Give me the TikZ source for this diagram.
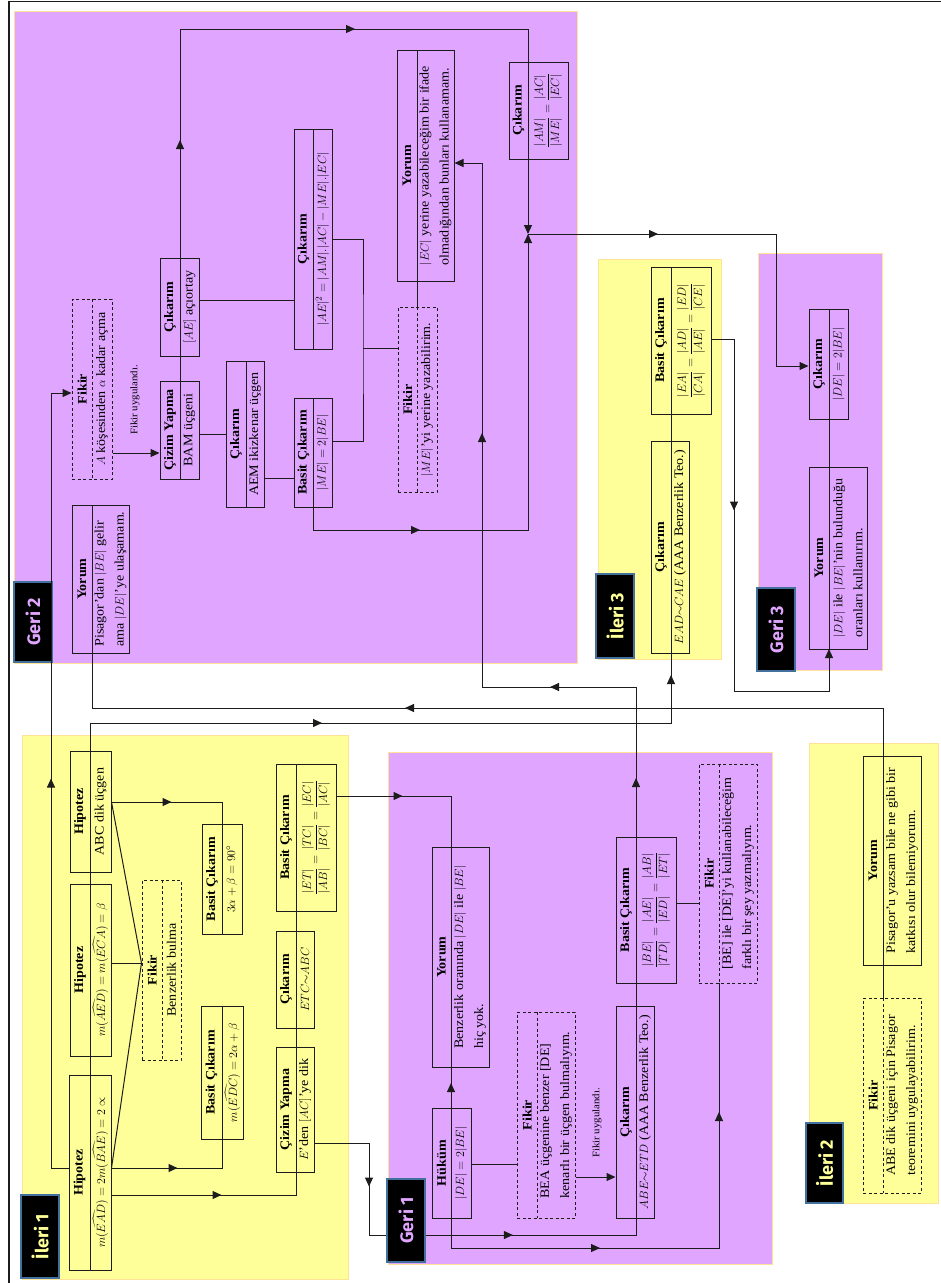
\documentclass[tikz,border=0pt]{standalone}
\usepackage{amsmath}
\usepackage{fontspec}
\setmainfont{Liberation Serif}[FakeStretch=1.08]
\newfontfamily\labfont{Fira Sans}
\usetikzlibrary{arrows.meta,fit,decorations.markings,calc}
\definecolor{purp}{RGB}{224,166,255}
\definecolor{yel}{RGB}{255,255,153}
\definecolor{regline}{RGB}{255,226,150}
\definecolor{labline}{RGB}{65,113,156}
\definecolor{ink}{RGB}{28,28,28}
\tikzset{
  region/.style={inner sep=0pt, draw=regline, line width=0.8pt},
  boxframe/.style={draw=ink, line width=1pt, inner sep=0pt},
  dashedbox/.style={dash pattern=on 3pt off 2.5pt},
  hdr/.style={rotate=90, inner sep=0pt, font=\bfseries\fontsize{13}{14}\selectfont},
  cnt/.style={rotate=90, inner sep=0pt, align=left, font=\fontsize{13}{20}\selectfont},
  conn/.style={draw=ink, line width=1pt},
  endarr/.style={-{Triangle[length=9pt,width=8pt]}},
  marr/.style={postaction={decorate,decoration={markings,mark=at position #1 with {\arrow{Triangle[length=9pt,width=8pt]}}}}},
  lab/.style={fill=black, draw=labline, line width=1.8pt, inner sep=0pt},
  labtext/.style={rotate=90, inner sep=0pt, font=\labfont\bfseries\fontsize{18}{20}\selectfont},
  smalltext/.style={rotate=90, inner sep=0pt, font=\fontsize{10}{12}\selectfont},
}
% name, x1, x2, y1, y2, xdiv, header, content, extra style
\newcommand\twobox[9]{%
  \node[boxframe,#9,fit={(#2,#4)(#3,#5)}] (#1) {};
  \draw[boxframe,#9] (#6,#4) -- (#6,#5);
  \coordinate (#1-dn) at (#6,#4);
  \coordinate (#1-ds) at (#6,#5);
  \node[hdr] (#1-h) at ({(#2+#6)/2},{(#4+#5)/2}) {#7};
  \node[cnt] (#1-c) at ({(#6+#3)/2},{(#4+#5)/2}) {#8};
}
\begin{document}
\begin{tikzpicture}[x=1pt,y=-1pt]
\useasboundingbox (0,0) rectangle (941,1283);
% regions
\node[region,fill=purp,fit={(14,11)(577,663)}] (rg2) {};
\node[region,fill=yel,fit={(22,735)(348,1279)}] (ri1) {};
\node[region,fill=purp,fit={(388,752)(772,1264)}] (rg1) {};
\node[region,fill=yel,fit={(598,259)(721,659)}] (ri3) {};
\node[region,fill=purp,fit={(758,253)(882,670)}] (rg3) {};
\node[region,fill=yel,fit={(809,743)(938,1203)}] (ri2) {};
\draw[line width=1.5pt,ink] (9,1283) -- (9,1.5) -- (941,1.5);

% Geri 2
\twobox{g2yor}{72}{129}{505}{653}{92}{Yorum}{Pisagor’dan $|BE|$ gelir\\ama $|DE|$’ye ulaşamam.}{}
\twobox{g2fik}{72}{112}{299}{479}{92}{Fikir}{$A$ köşesinden $\alpha$ kadar açma}{dashedbox}
\twobox{g2ciz}{160}{199}{381}{479}{180}{Çizim Yapma}{BAM üçgeni}{}
\twobox{g2cika}{160}{199}{258}{356}{180}{Çıkarım}{$[AE]$ açıortay}{}
\twobox{g2cikb}{226}{264}{361}{507}{246}{Çıkarım}{AEM ikizkenar üçgen}{}
\twobox{g2bas}{294}{332}{398}{507}{313}{Basit Çıkarım}{$|ME|=2|BE|$}{}
\twobox{g2cikc}{294}{332}{129}{349}{313}{Çıkarım}{$|AE|^2=|AM|.|AC|-|ME|.|EC|$}{}
\twobox{g2fikb}{398}{437}{307}{492}{417}{Fikir}{$|ME|$’yi yerine yazabilirim.}{dashedbox}
\twobox{g2yorb}{397}{454}{50}{281}{417}{Yorum}{$|EC|$ yerine yazabileceğim bir ifade\\olmadığından bunları kullanamam.}{}
\twobox{g2cikd}{509}{568}{62}{159}{528}{Çıkarım}{$\dfrac{|AM|}{|ME|}=\dfrac{|AC|}{|EC|}$}{}
% Ileri 3
\twobox{i3bas}{651}{711}{267}{414}{671}{Basit Çıkarım}{$\dfrac{|EA|}{|CA|}=\dfrac{|AD|}{|AE|}=\dfrac{|ED|}{|CE|}$}{}
\twobox{i3cik}{651}{689}{441}{653}{671}{Çıkarım}{$EAD{\sim}CAE$ (AAA Benzerlik Teo.)}{}
% Geri 3
\twobox{g3cik}{809}{848}{309}{419}{829}{Çıkarım}{$|DE|=2|BE|$}{}
\twobox{g3yor}{809}{867}{467}{649}{829}{Yorum}{$|DE|$ ile $|BE|$’nin bulunduğu\\oranları kullanırım.}{}
% Ileri 1
\twobox{i1hipc}{70}{111}{751}{872}{90}{Hipotez}{ABC dik üçgen}{}
\twobox{i1hipb}{70}{111}{884}{1056}{90}{Hipotez}{$m(\widehat{AED})=m(\widehat{ECA})=\beta$}{}
\twobox{i1hipa}{69}{111}{1075}{1270}{90}{Hipotez}{$m(\widehat{EAD})=2m(\widehat{BAE})=2\propto$}{}
\twobox{i1fik}{142}{181}{880}{1060}{162}{Fikir}{Benzerlik bulma}{dashedbox}
\twobox{i1basa}{202}{242}{824}{934}{222}{Basit Çıkarım}{$3\alpha+\beta=90^{\circ}$}{}
\twobox{i1basb}{201}{243}{1006}{1139}{222}{Basit Çıkarım}{$m(\widehat{EDC})=2\alpha+\beta$}{}
\twobox{i1basc}{276}{336}{764}{911}{296}{Basit Çıkarım}{$\dfrac{|ET|}{|AB|}=\dfrac{|TC|}{|BC|}=\dfrac{|EC|}{|AC|}$}{}
\twobox{i1cik}{276}{314}{931}{1028}{296}{Çıkarım}{$ETC{\sim}ABC$}{}
\twobox{i1ciz}{276}{314}{1047}{1172}{296}{Çizim Yapma}{$E$’den $[AC]$’ye dik}{}
% Geri 1
\twobox{g1hk}{432}{471}{1108}{1218}{451}{Hüküm}{$|DE|=2|BE|$}{}
\twobox{g1yor}{432}{489}{847}{1067}{451}{Yorum}{Benzerlik oranında $|DE|$ ile $|BE|$\\hiç yok.}{}
\twobox{g1fik}{517}{575}{1012}{1218}{537}{Fikir}{BEA üçgenine benzer [DE]\\kenarlı bir üçgen bulmalıyım.}{dashedbox}
\twobox{g1cik}{616}{654}{1006}{1218}{636}{Çıkarım}{$ABE{\sim}ETD$ (AAA Benzerlik Teo.)}{}
\twobox{g1bas}{616}{676}{837}{983}{636}{Basit Çıkarım}{$\dfrac{|BE|}{|TD|}=\dfrac{|AE|}{|ED|}=\dfrac{|AB|}{|ET|}$}{}
\twobox{g1fikb}{699}{757}{764}{983}{719}{Fikir}{[BE] ile [DE]’yi kullanabileceğim\\farklı bir şey yazmalıyım.}{dashedbox}
% Ileri 2
\twobox{i2yor}{863}{921}{756}{965}{883}{Yorum}{Pisagor’u yazsam bile ne gibi bir\\katkısı olur bilemiyorum.}{}
\twobox{i2fik}{863}{921}{998}{1193}{883}{Fikir}{ABE dik üçgeni için Pisagor\\teoremini uygulayabilirim.}{dashedbox}

\node[smalltext] (fu1) at (135,400) {Fikir uygulandı.};
\node[smalltext] (fu2) at (597,1123) {Fikir uygulandı.};

% labels
\node[lab,fit={(14,582)(52,662)}] (lg2) {};
\node[lab,fit={(21,1195)(59,1278)}] (li1) {};
\node[lab,fit={(387,1179)(425,1262)}] (lg1) {};
\node[lab,fit={(596,574)(634,658)}] (li3) {};
\node[lab,fit={(757,588)(795,671)}] (lg3) {};
\node[lab,fit={(806,1123)(843,1203)}] (li2) {};
\node[labtext,text=purp] (lg2t) at (lg2.center) {Geri 2};
\node[labtext,text=yel] (li1t) at (li1.center) {İleri 1};
\node[labtext,text=purp] (lg1t) at (lg1.center) {Geri 1};
\node[labtext,text=yel] (li3t) at (li3.center) {İleri 3};
\node[labtext,text=purp] (lg3t) at (lg3.center) {Geri 3};
\node[labtext,text=yel] (li2t) at (li2.center) {İleri 2};

% connectors
\draw[conn,endarr,marr=407pt] (i1hipa.west |- 0,1168) -- (51,1168) -- (51,393) -- (g2fik.west |- 0,393);
\draw[conn,marr=66pt] (i1hipa.east |- 0,1168) -| (i1basb-ds);
\draw[conn,marr=110pt] (i1hipa.east |- 0,1195) -| (i1ciz-ds);
\draw[conn] (i1hipa.east |- 0,1168) -- (i1fik.west |- 0,963);
\draw[conn] (i1hipb.east |- 0,963) -- (i1fik.west |- 0,963);
\draw[conn] (i1hipc.east |- 0,802) -- (i1fik.west |- 0,963);
\draw[conn,marr=60pt] (i1hipc.east |- 0,802) -| (i1basa-dn);
\draw[conn] (i1hipa-dn) -- (i1hipb-ds);
\draw[conn] (i1hipb-dn) -- (i1hipc-ds);
\draw[conn,marr=260pt,marr=657pt] (i1hipc-dn) -- (90,723) -| (i3cik-ds);
\draw[conn] (i1ciz-dn) -- (i1cik-ds);
\draw[conn] (i1cik-dn) -- (i1basc-ds);
\draw[conn,marr=66pt] (i1basc.east |- 0,796) -| (g1yor-dn);
\draw[conn,marr=98pt] (i1ciz.east |- 0,1143) -- (369,1143) |- (lg1.west |- 0,1235);
\draw[conn,marr=87pt] (lg1.east |- 0,1235) -| (g1cik-ds);
\draw[conn] (g1cik-dn) -- (g1bas-ds);
\draw[conn,endarr,marr=59pt,marr=236pt,marr=558pt] (g1bas-dn) -- (636,687) -- (482,687) |- (g2yorb.east |- 0,163);
\draw[conn,marr=25pt] (g1hk-dn) -- (g1yor-ds);
\draw[conn,marr=179pt,marr=434pt] (g1hk-ds) -- (451,1248) -| (g1fikb-ds);
\draw[conn] (g1hk.east |- 0,1164) -- (g1fik.west |- 0,1164);
\draw[conn,endarr] (g1fik.east |- 0,1177) -- (g1cik.west |- 0,1177);
\draw[conn] (g1bas.east |- 0,903) -- (g1fikb.west |- 0,903);
\draw[conn,marr=526pt] (i2yor-dn) -- (883,708) -| (g2yor-ds);
\draw[conn] (i2yor-ds) -- (i2fik-dn);
\draw[conn,endarr] (g2fik.east |- 0,453) -- (g2ciz.west |- 0,453);
\draw[conn] (g2ciz-dn) -- (g2cika-ds);
\draw[conn] (g2ciz.east |- 0,434) -- (g2cikb.west |- 0,434);
\draw[conn] (g2cikb.east |- 0,478) -- (g2bas.west |- 0,478);
\draw[conn] (g2cika.east |- 0,300) -- (g2cikc.west |- 0,300);
\coordinate (br) at (363,348);
\draw[conn] (g2cikc.east |- 0,239) -| (br) |- (g2bas.east |- 0,441);
\draw[conn] (br) -- (g2fikb.west |- br);
\draw[conn] (g2yorb-ds) -- (g2fikb-dn);
\draw[conn,marr=118pt,marr=404pt] (g2cika-dn) |- (g2cikd-dn |- 0,29) -- (g2cikd-dn);
\coordinate (jn) at (528,234);
\draw[conn,endarr] (g2cikd-ds) -- (jn);
\draw[conn,endarr,marr=130pt] (g2bas-ds) -- (313,530) -| (jn);
\draw[conn,endarr,marr=130pt] (jn) -| (776,366) -- (g3cik.west |- 0,366);
\draw[conn] (i3cik-dn) -- (i3bas-ds);
\draw[conn,endarr,marr=194pt] (i3bas.east |- 0,339) -- (734,339) -- (734,691) -| (g3yor-ds);
\draw[conn] (g3yor-dn) -- (g3cik-ds);
\end{tikzpicture}
\end{document}
